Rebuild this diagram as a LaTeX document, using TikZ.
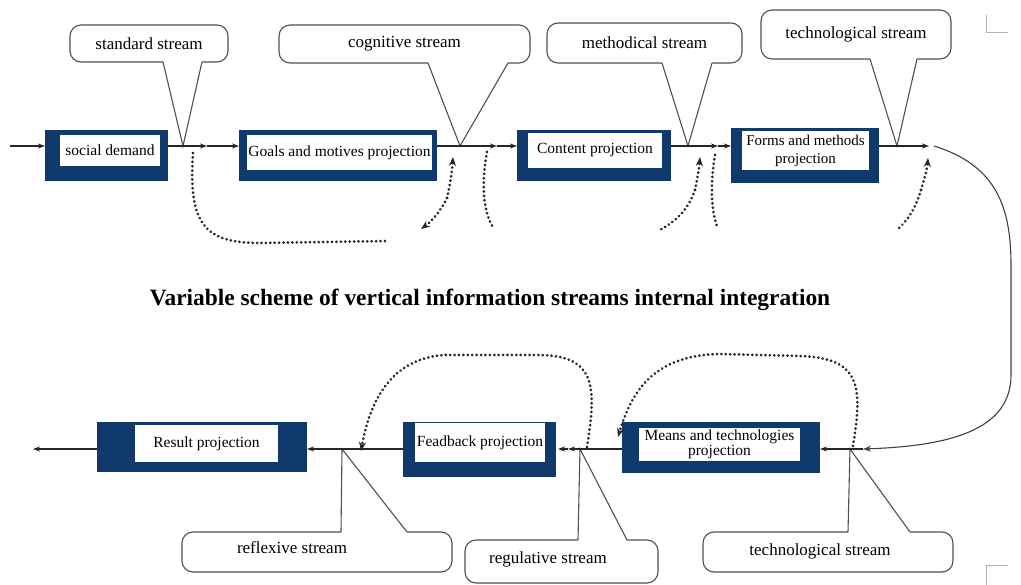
\documentclass[tikz,border=0pt]{standalone}
\usepackage{fontspec}
\setmainfont{Liberation Serif}
\usetikzlibrary{arrows.meta}
\definecolor{navy}{RGB}{15,58,107}
\definecolor{bubblegray}{RGB}{80,80,80}
\begin{document}
\begin{tikzpicture}[x=1pt,y=-1pt,
  outerbox/.style={fill=navy,draw=none,inner sep=0pt,outer sep=0pt},
  innerbox/.style={fill=white,draw=none,inner sep=1pt,align=center,font=\fontsize{15.5}{17}\selectfont},
  bubble/.style={draw=bubblegray,fill=white,rounded corners=11pt,line width=1.1pt,inner sep=0pt,font=\fontsize{17}{20}\selectfont},
  pointer/.style={draw=bubblegray,line width=1.1pt,line join=miter},
  mask/.style={fill=white,draw=none},
  flow/.style={draw=black!85,line width=1.1pt,-{Stealth[length=7pt,width=5pt]}},
  fb/.style={dash pattern=on 0.01pt off 4.4pt,line cap=round,line width=3pt,draw=black!85},
  fbtip/.style={fb,-{Stealth[length=9pt,width=7pt,line cap=butt]}},
  crop/.style={draw=black!30,line width=1pt}]
\useasboundingbox (0,0) rectangle (1021,585);

% ---------- crop marks ----------
\draw[crop] (986,15) -- (986,33) -- (1008,33);
\draw[crop] (986,585) -- (986,565) -- (1008,565);

% ---------- top callouts ----------
\coordinate (t1) at (183,146);
\coordinate (t2) at (460,146);
\coordinate (t3) at (688,146);
\coordinate (t4) at (897,146);

\node[bubble,minimum width=158,minimum height=37] (bsd) at (149,43.5) {standard stream};
\fill[mask] (163.5,60) -- (201.5,60) -- (202,62.6) -- (t1) -- (163,62.6) -- cycle;
\draw[pointer] (163,62) -- (t1) -- (202,62);

\node[bubble,minimum width=251,minimum height=38] (bcg) at (404.5,44) {cognitive stream};
\fill[mask] (428.5,61) -- (507.5,61) -- (508,63.6) -- (t2) -- (428,63.6) -- cycle;
\draw[pointer] (428,63) -- (t2) -- (508,63);

\node[bubble,minimum width=195,minimum height=40] (bmt) at (644.5,43) {methodical stream};
\fill[mask] (662.5,61) -- (711.5,61) -- (712,63.6) -- (t3) -- (662,63.6) -- cycle;
\draw[pointer] (662,63) -- (t3) -- (712,63);

\node[bubble,minimum width=190,minimum height=49] (btc) at (856,34.5) {\raisebox{2pt}{technological stream}};
\fill[mask] (870.5,57) -- (916.5,57) -- (917,59.6) -- (t4) -- (870,59.6) -- cycle;
\draw[pointer] (870,59) -- (t4) -- (917,59);

% ---------- bottom callouts ----------
\coordinate (u1) at (342,449);
\coordinate (u2) at (580,449);
\coordinate (u3) at (850,449);

\node[bubble,minimum width=270,minimum height=40] (brf) at (317,552) {};
\node[font=\fontsize{17}{20}\selectfont] (lrf) at (292,548) {reflexive stream};
\fill[mask] (341,531) -- (u1) -- (407,531) -- (406.5,534) -- (341.5,534) -- cycle;
\draw[pointer] (341,532) -- (u1) -- (407,532);

\node[bubble,minimum width=193,minimum height=43] (brg) at (561.5,561.5) {};
\node[font=\fontsize{17}{20}\selectfont] (lrg) at (548,559) {regulative stream};
\fill[mask] (578,539) -- (u2) -- (627,539) -- (626.5,542) -- (578.5,542) -- cycle;
\draw[pointer] (578,540) -- (u2) -- (627,540);

\node[bubble,minimum width=250,minimum height=40] (btb) at (828,552) {};
\node[font=\fontsize{17}{20}\selectfont] (ltb) at (820,551) {technological stream};
\fill[mask] (848,531) -- (u3) -- (910,531) -- (909.5,534) -- (848.5,534) -- cycle;
\draw[pointer] (848,532) -- (u3) -- (910,532);

% ---------- top row boxes ----------
\node[outerbox,minimum width=123,minimum height=51] (sdo) at (106.5,155.5) {};
\node[innerbox,minimum width=100,minimum height=31] (sdi) at (110,150.5) {social demand};

\node[outerbox,minimum width=198,minimum height=51] (gmo) at (338,155.5) {};
\node[innerbox,minimum width=175,minimum height=35] (gmi) at (339.5,152.5) {Goals and motives projection};

\node[outerbox,minimum width=154,minimum height=51] (cpo) at (594,155.5) {};
\node[innerbox,minimum width=134,minimum height=35] (cpi) at (595,150.5) {Content projection};

\node[outerbox,minimum width=148,minimum height=55] (fmo) at (805,155.5) {};
\node[innerbox,minimum width=127,minimum height=39,font=\fontsize{15}{18.5}\selectfont] (fmi) at (805.5,151) {Forms and methods\\projection};

% ---------- bottom row boxes ----------
\node[outerbox,minimum width=210,minimum height=50] (rpo) at (202,447) {};
\node[innerbox,minimum width=143,minimum height=37] (rpi) at (206.5,443.5) {Result projection};

\node[outerbox,minimum width=153,minimum height=55] (fpo) at (479.5,449.5) {};
\node[innerbox,minimum width=130,minimum height=39] (fpi) at (480,442.5) {Feadback projection};

\node[outerbox,minimum width=198,minimum height=51] (mto) at (721,447.5) {};
\node[innerbox,minimum width=161,minimum height=33,font=\fontsize{15.5}{13}\selectfont] (mti) at (719.5,444.5) {Means and technologies\\projection};

% ---------- title ----------
\node[font=\bfseries\fontsize{23.4}{26}\selectfont] (title) at (490,300) {Variable scheme of vertical information streams internal integration};

% ---------- top flow ----------
\coordinate (in0) at (10,146);
\coordinate (m1) at (207,146);
\coordinate (m2) at (497,146);
\coordinate (m3) at (718,146);
\coordinate (out1) at (929,146);
\draw[flow] (in0) -- (in0 -| sdo.west);
\draw[flow] (in0 -| sdo.east) -- (m1);
\draw[flow] (m1) -- (m1 -| gmo.west);
\draw[flow] (in0 -| gmo.east) -- (m2);
\draw[flow] (m2) -- (m2 -| cpo.west);
\draw[flow] (in0 -| cpo.east) -- (m3);
\draw[flow] (m3) -- (m3 -| fmo.west);
\draw[flow] (in0 -| fmo.east) -- (out1);

% ---------- connecting curve ----------
\coordinate (c0) at (934,146);
\coordinate (inb) at (863,449);
\draw[draw=black!75,line width=1.1pt,-{Stealth[length=8pt,width=6pt,open]}]
  (c0) .. controls (995,165) and (1011,205) .. (1011,265)
  -- (1011,375) .. controls (1011,430) and (950,446) .. (inb);

% ---------- bottom flow ----------
\coordinate (n1) at (568,449);
\coordinate (outb) at (33,449);
\draw[flow] (inb) -- (inb -| mto.east);
\draw[flow] (inb -| mto.west) -- (n1);
\draw[flow] (n1) -- (558,449);
\draw[flow] (inb -| fpo.west) -- (inb -| rpo.east);
\draw[flow] (inb -| rpo.west) -- (outb);

% ---------- dotted feedback curves (top) ----------
\draw[fb] (193,153) .. controls (188,225) and (205,243) .. (260,243) -- (388,241);
\draw[fbtip] (447,198) .. controls (440,212) and (432,221) .. (421,229);
\draw[fbtip] (447,198) .. controls (450,185) and (452,172) .. (453,157);
\draw[fb] (487,152) .. controls (481,185) and (483,212) .. (494,229);
\draw[fbtip] (695,190) .. controls (697,180) and (699,170) .. (700,157);
\draw[fb] (695,190) .. controls (688,210) and (676,221) .. (660,230);
\draw[fb] (715,155) .. controls (710,185) and (711,212) .. (718,229);
\draw[fbtip] (921,190) .. controls (924,180) and (927,170) .. (928,158);
\draw[fb] (921,190) .. controls (915,210) and (907,221) .. (897,230);

% ---------- dotted feedback curves (bottom) ----------
\draw[fbtip] (587,447) .. controls (597,385) and (595,356) .. (540,355)
  -- (445,355) .. controls (392,358) and (370,400) .. (361,451);
\draw[fbtip] (853,446) .. controls (863,385) and (860,358) .. (800,356)
  -- (720,354) .. controls (655,355) and (632,390) .. (618,437);
\end{tikzpicture}
\end{document}
